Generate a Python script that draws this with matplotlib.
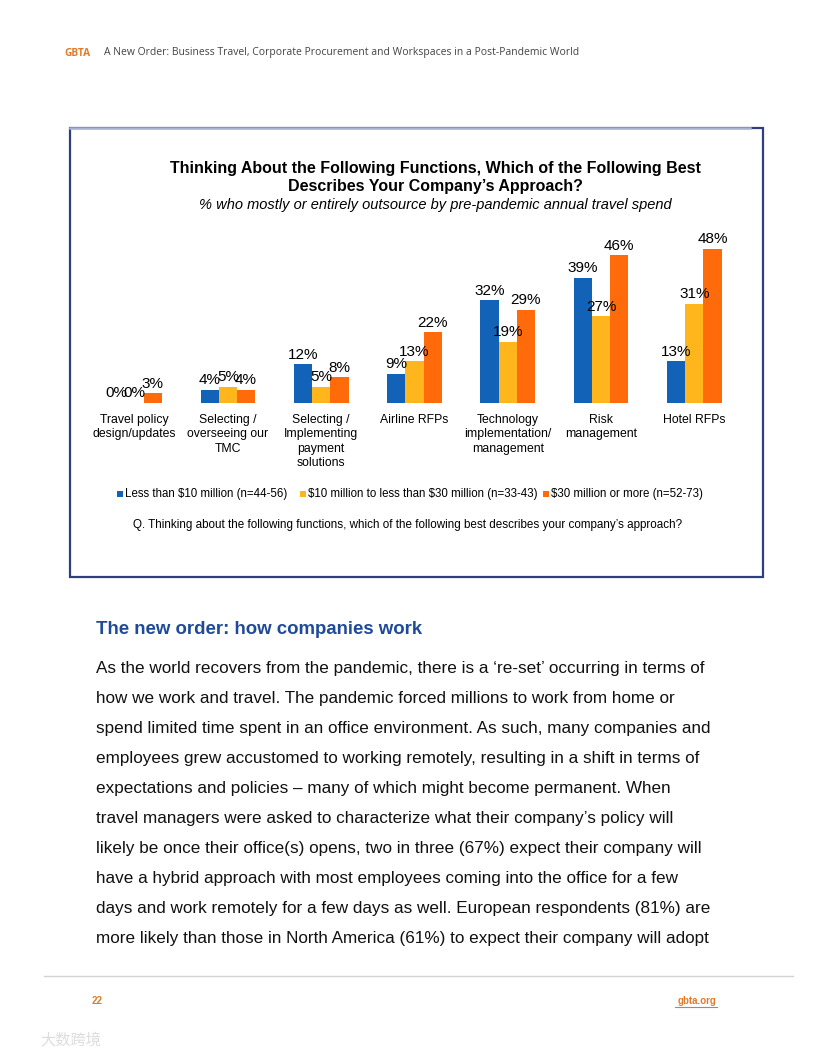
import matplotlib
matplotlib.use("Agg")
import matplotlib.pyplot as plt
from matplotlib.patches import Rectangle
from matplotlib.lines import Line2D
import numpy as np

plt.rcParams['font.family'] = ['Liberation Sans', 'DejaVu Sans']

categories = ["Travel policy\ndesign/updates", "Selecting /\noverseeing our\nTMC",
              "Selecting /\nImplementing\npayment\nsolutions", "Airline RFPs",
              "Technology\nimplementation/\nmanagement", "Risk\nmanagement", "Hotel RFPs"]
series_names = ["Less than \\$10 million (n=44-56)",
                "\\$10 million to less than \\$30 million (n=33-43)",
                "\\$30 million or more (n=52-73)"]
less_10m = [0, 4, 12, 9, 32, 39, 13]
mid_10_30m = [0, 5, 5, 13, 19, 27, 31]
over_30m = [3, 4, 8, 22, 29, 46, 48]
colors = ["#1262B8", "#FFB61C", "#FF6A0A"]

body_lines = [
    "As the world recovers from the pandemic, there is a \u2018re-set\u2019 occurring in terms of",
    "how we work and travel. The pandemic forced millions to work from home or",
    "spend limited time spent in an office environment. As such, many companies and",
    "employees grew accustomed to working remotely, resulting in a shift in terms of",
    "expectations and policies \u2013 many of which might become permanent. When",
    "travel managers were asked to characterize what their company\u2019s policy will",
    "likely be once their office(s) opens, two in three (67%) expect their company will",
    "have a hybrid approach with most employees coming into the office for a few",
    "days and work remotely for a few days as well. European respondents (81%) are",
    "more likely than those in North America (61%) to expect their company will adopt",
]

W, H = 816, 1056
fig = plt.figure(figsize=(W / 100, H / 100), dpi=100)

def fy(y):
    return 1 - y / H

def fx(x):
    return x / W

# header
fig.text(fx(64), fy(53), "GBTA", color="#E07B2A", fontsize=7.3, fontweight="bold", va="center",
         family=["Open Sans", "DejaVu Sans"])
fig.text(fx(104), fy(53), "A New Order: Business Travel, Corporate Procurement and Workspaces in a Post-Pandemic World",
         color="#444444", fontsize=7.5, va="center", family=["Open Sans", "DejaVu Sans"])

# chart box
fig.add_artist(Rectangle((fx(70), fy(577)), fx(763) - fx(70), fy(128) - fy(577),
                         transform=fig.transFigure, fill=False, edgecolor="#2E3F80", linewidth=1.6))
fig.add_artist(Line2D([fx(70), fx(750)], [fy(128), fy(128)], transform=fig.transFigure,
                      color="#A8B2D0", linewidth=1.8))

# titles
fig.text(fx(435), fy(168), "Thinking About the Following Functions, Which of the Following Best",
         ha="center", va="center", fontsize=11.5, fontweight="bold")
fig.text(fx(435), fy(186), "Describes Your Company\u2019s Approach?",
         ha="center", va="center", fontsize=11.5, fontweight="bold")
fig.text(fx(435), fy(205), "% who mostly or entirely outsource by pre-pandemic annual travel spend",
         ha="center", va="center", fontsize=10.5, style="italic")

# axes
x0, x1 = 88, 741
ybase, ytop = 403, 229.7
ax = fig.add_axes([fx(x0), fy(ybase), fx(x1) - fx(x0), fy(ytop) - fy(ybase)])
ax.set_xlim(-0.5, 6.5)
ax.set_ylim(0, 54)
x = np.arange(len(categories))
bw = 0.195
for i, (vals, c) in enumerate(zip([less_10m, mid_10_30m, over_30m], colors)):
    bars = ax.bar(x + (i - 1) * bw, vals, width=bw, color=c, linewidth=0)
    for b, v in zip(bars, vals):
        ax.annotate(f"{v}%", (b.get_x() + b.get_width() / 2, v), xytext=(0, 2),
                    textcoords="offset points", ha="center", va="bottom", fontsize=11)
ax.set_xticks(x)
ax.set_xticklabels(categories, fontsize=8.8, linespacing=1.25, va="top")
ax.tick_params(axis="x", length=0, pad=8)
ax.set_yticks([])
for s in ax.spines.values():
    s.set_visible(False)
ax.patch.set_alpha(0)

# legend
lx = [117, 300, 543]
for xx, name, c in zip(lx, series_names, colors):
    fig.add_artist(Rectangle((fx(xx), fy(497)), 6 / W, 6 / H, transform=fig.transFigure,
                             color=c, linewidth=0))
    fig.text(fx(xx + 8), fy(494), name, fontsize=8.3, va="center")
fig.text(fx(133), fy(525), "Q. Thinking about the following functions, which of the following best describes your company\u2019s approach?",
         fontsize=8.4, va="center")

# section heading and body
fig.text(fx(96), fy(630), "The new order: how companies work", color="#1F4A99",
         fontsize=13.4, fontweight="bold", va="center")
for k, line in enumerate(body_lines):
    fig.text(fx(96), fy(669 + k * 29.9), line, fontsize=12.3, va="center", color="#111111")

# footer
fig.add_artist(Line2D([fx(44), fx(793)], [fy(976), fy(976)], transform=fig.transFigure,
                      color="#D4D4D4", linewidth=1))
fig.text(fx(92), fy(1001), "22", color="#E07B2A", fontsize=7, fontweight="bold", va="center")
fig.text(fx(717), fy(1001), "gbta.org", color="#E07B2A", fontsize=7, fontweight="bold",
         va="center", ha="right")
fig.add_artist(Line2D([fx(675), fx(717)], [fy(1007), fy(1007)], transform=fig.transFigure,
                      color="#E07B2A", linewidth=0.8))
fig.text(fx(40), fy(1040), "\u5927\u6570\u8de8\u5883", color="#DDDDDD", fontsize=11,
         va="center", family=["Noto Sans CJK SC", "DejaVu Sans"])

fig.savefig("out.png", dpi=100)
